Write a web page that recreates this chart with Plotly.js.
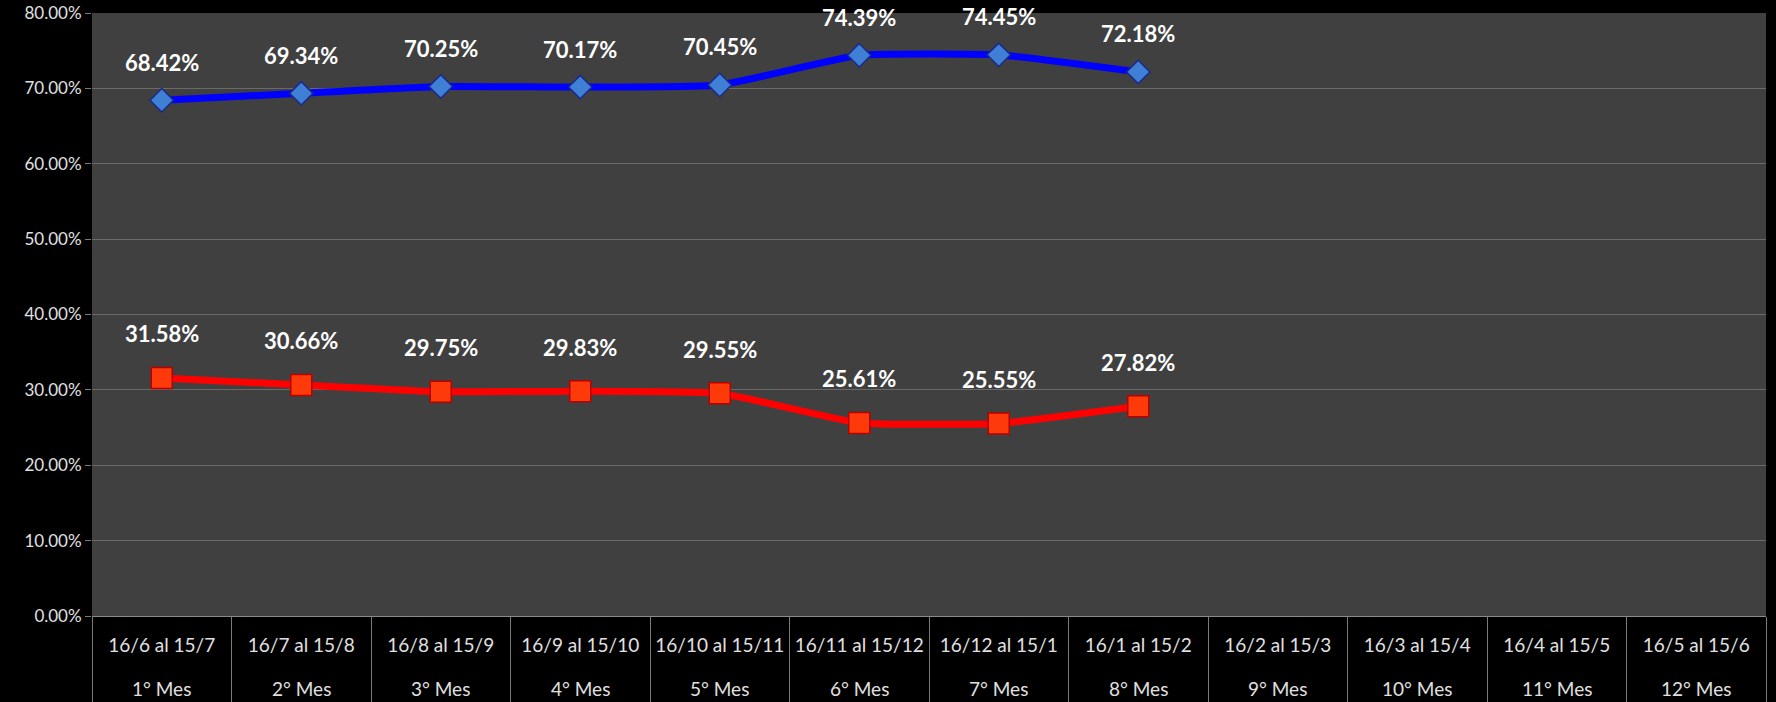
<!DOCTYPE html>
<html>
<head>
<meta charset="utf-8">
<script src="https://cdn.plot.ly/plotly-3.0.1.min.js"></script>
<style>html,body{margin:0;padding:0;background:#000;}#chart{width:1776px;height:702px;}</style>
</head>
<body>
<div id="chart"></div>
<script>
const periods = ['16/6 al 15/7','16/7 al 15/8','16/8 al 15/9','16/9 al 15/10','16/10 al 15/11','16/11 al 15/12','16/12 al 15/1','16/1 al 15/2','16/2 al 15/3','16/3 al 15/4','16/4 al 15/5','16/5 al 15/6'];
const months = ['1° Mes','2° Mes','3° Mes','4° Mes','5° Mes','6° Mes','7° Mes','8° Mes','9° Mes','10° Mes','11° Mes','12° Mes'];
const serieAzul = [68.42, 69.34, 70.25, 70.17, 70.45, 74.39, 74.45, 72.18];
const serieRoja = [31.58, 30.66, 29.75, 29.83, 29.55, 25.61, 25.55, 27.82];
const yTickVals = [0, 10, 20, 30, 40, 50, 60, 70, 80];

const FONT = 'Lato, "Open Sans", sans-serif';
const xs = periods.slice(0, serieAzul.length);

const traces = [
  {
    x: xs, y: serieAzul.map(v => v / 100), type: 'scatter', mode: 'lines+markers', name: 'Serie 1',
    line: {color: '#0000ff', width: 7, shape: 'spline', smoothing: 0.4},
    marker: {symbol: 'diamond', size: 18, color: '#3f7fd6', line: {color: '#1a2a8c', width: 1.5}}
  },
  {
    x: xs, y: serieRoja.map(v => v / 100), type: 'scatter', mode: 'lines+markers', name: 'Serie 2',
    line: {color: '#ff0000', width: 7, shape: 'spline', smoothing: 0.4},
    marker: {symbol: 'square', size: 21, color: '#ff3a0a', line: {color: '#b80000', width: 1.5}}
  }
];

const annotations = [];
[[serieAzul, 38], [serieRoja, 44]].forEach(([s, off]) => {
  s.forEach((v, i) => {
    annotations.push({
      x: periods[i], y: v / 100, xref: 'x', yref: 'y', text: v.toFixed(2) + '%',
      showarrow: false, yshift: off,
      font: {family: FONT, size: 22, color: '#ffffff', weight: 'bold'}
    });
  });
});
months.forEach((m, i) => {
  annotations.push({
    x: periods[i], y: 0, xref: 'x', yref: 'paper', text: m, showarrow: false,
    yanchor: 'middle', yshift: -72, font: {family: FONT, size: 19, color: '#e0e0e0'}
  });
});

const layout = {
  width: 1776, height: 702,
  paper_bgcolor: '#000000', plot_bgcolor: '#404040',
  margin: {l: 92, r: 10, t: 13, b: 86},
  showlegend: false,
  font: {family: FONT, color: '#e0e0e0'},
  xaxis: {
    type: 'category', categoryorder: 'array', categoryarray: periods,
    range: [-0.5, periods.length - 0.5], fixedrange: true,
    showgrid: false, zeroline: false,
    showline: true, linecolor: '#8a8a8a', linewidth: 1,
    ticks: 'outside', tickson: 'boundaries', ticklen: 86, tickcolor: '#7a7a7a', tickwidth: 1,
    tickangle: 0, automargin: false,
    ticklabelstandoff: 12,
    tickfont: {family: FONT, size: 19, color: '#e0e0e0'}
  },
  yaxis: {
    range: [0, 0.8], tickvals: yTickVals.map(v => v / 100), tickformat: '.2%',
    showgrid: true, gridcolor: '#6a6a6a', gridwidth: 1, zeroline: false,
    showline: false, ticks: 'outside', ticklen: 6, tickcolor: '#7a7a7a',
    tickfont: {family: FONT, size: 17, color: '#e0e0e0'}
  },
  annotations: annotations
};

Plotly.newPlot('chart', traces, layout, {displayModeBar: false, staticPlot: true});
</script>
</body>
</html>
